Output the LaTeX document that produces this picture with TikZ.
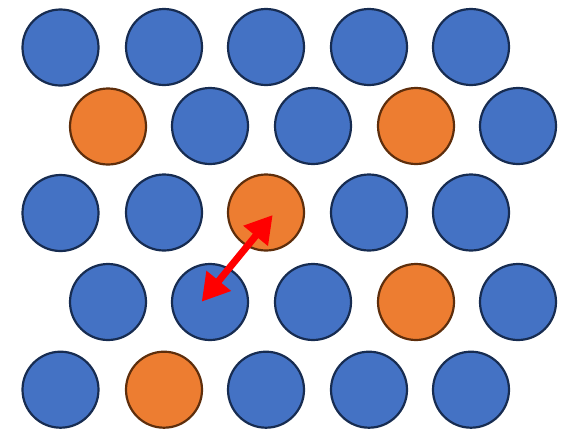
\documentclass[tikz,border=0pt]{standalone}
\usetikzlibrary{arrows.meta}
\definecolor{bfill}{HTML}{4472C4}
\definecolor{bline}{HTML}{172C51}
\definecolor{ofill}{HTML}{ED7D31}
\definecolor{oline}{HTML}{5E2E0C}
\definecolor{ared}{HTML}{FF0000}
\begin{document}
\begin{tikzpicture}[x=1pt,y=-1pt,
  ball/.style={circle,minimum size=76pt,inner sep=0pt,line width=2.2pt},
  bball/.style={ball,fill=bfill,draw=bline},
  oball/.style={ball,fill=ofill,draw=oline},
  dbl/.style={draw=ared,line width=7pt,{Triangle[width=30pt,length=27pt]}-{Triangle[width=30pt,length=27pt]}}]
\useasboundingbox (0,0) rectangle (562,429);
% row 1
\node[bball] (r1c1) at (60.5,47.5) {};
\node[bball] (r1c2) at (164,47) {};
\node[bball] (r1c3) at (266,47) {};
\node[bball] (r1c4) at (369,47) {};
\node[bball] (r1c5) at (471,47) {};
% row 2
\node[oball] (r2c1) at (108,126.5) {};
\node[bball] (r2c2) at (210,126) {};
\node[bball] (r2c3) at (313,126) {};
\node[oball] (r2c4) at (416,126) {};
\node[bball] (r2c5) at (518,126) {};
% row 3
\node[bball] (r3c1) at (60.5,213) {};
\node[bball] (r3c2) at (164,212.5) {};
\node[oball] (r3c3) at (266,212.5) {};
\node[bball] (r3c4) at (369,212.5) {};
\node[bball] (r3c5) at (471,212.5) {};
% row 4
\node[bball] (r4c1) at (108,302) {};
\node[bball] (r4c2) at (210,302) {};
\node[bball] (r4c3) at (313,302) {};
\node[oball] (r4c4) at (416,302) {};
\node[bball] (r4c5) at (518,302) {};
% row 5
\node[bball] (r5c1) at (60.5,389.7) {};
\node[oball] (r5c2) at (164,389.7) {};
\node[bball] (r5c3) at (266,389.7) {};
\node[bball] (r5c4) at (369,389.7) {};
\node[bball] (r5c5) at (471,389.7) {};
% arrow
\coordinate (atop) at (272.7,215);
\coordinate (abot) at (201.7,301.7);
\draw[dbl] (abot) -- (atop);
\end{tikzpicture}
\end{document}
